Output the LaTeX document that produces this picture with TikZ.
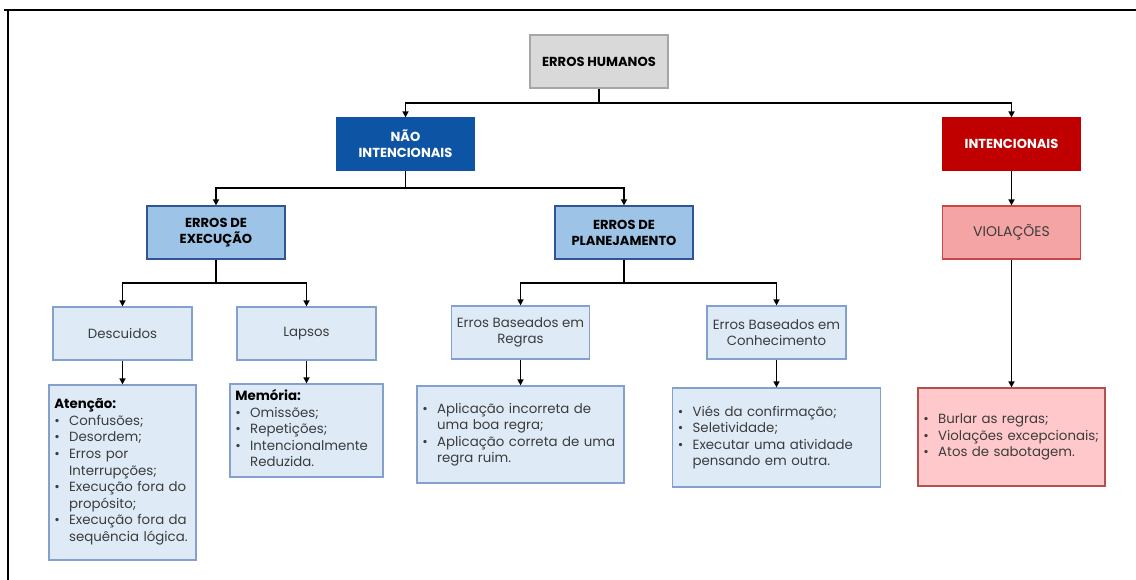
\documentclass[tikz,border=0pt]{standalone}
\usepackage{fontspec}
\setmainfont{Poppins}
\usetikzlibrary{arrows.meta}

\definecolor{grayfill}{RGB}{217,217,217}
\definecolor{grayline}{RGB}{166,166,166}
\definecolor{darkblue}{RGB}{14,84,164}
\definecolor{darkred}{RGB}{192,0,0}
\definecolor{midblue}{RGB}{157,195,230}
\definecolor{midblueline}{RGB}{47,85,151}
\definecolor{paleblue}{RGB}{222,235,247}
\definecolor{paleblueline}{RGB}{132,160,204}
\definecolor{pinkfill}{RGB}{244,164,164}
\definecolor{pinkline}{RGB}{200,70,70}
\definecolor{palepink}{RGB}{255,201,204}
\definecolor{palepinkline}{RGB}{180,80,80}
\definecolor{textgray}{RGB}{60,60,60}

\tikzset{
  headfont/.style={font=\fontsize{9.8}{12}\selectfont\bfseries},
  bodyfont/.style={font=\fontsize{10}{12.4}\selectfont},
  headbox/.style={rectangle, draw, line width=0.9pt, align=center, inner sep=2pt, headfont},
  subbox/.style={rectangle, draw=paleblueline, fill=paleblue, line width=0.9pt, align=center, inner sep=2pt, text=textgray, bodyfont},
  listbox/.style={rectangle, draw, line width=0.9pt, align=left, inner xsep=4pt, inner ysep=2pt, text=textgray, bodyfont},
}

\newcommand{\bul}{\textbullet}

\begin{document}
\begin{tikzpicture}[x=0.75pt,y=0.75pt,yscale=-1,xscale=1,
  link/.style={line width=1.4pt},
  arr/.style={link,-{Triangle[length=4.5pt,width=4.5pt]}}]
\useasboundingbox (0,0) rectangle (1136,580);

% frame
\draw[line width=2.2pt] (4,10) -- (1136,10);
\draw[line width=2.2pt] (8,10) -- (8,580);

% level 0
\node[headbox, draw=grayline, fill=grayfill, minimum width=103.5pt, minimum height=39.75pt] (humanos) at (599,61.5) {ERROS HUMANOS};

% level 1
\node[headbox, draw=darkblue, fill=darkblue, text=white, minimum width=102.75pt, minimum height=39pt] (nao) at (405.5,144) {NÃO\\INTENCIONAIS};
\node[headbox, draw=darkred, fill=darkred, text=white, minimum width=102.75pt, minimum height=39pt] (intenc) at (1011.5,144) {INTENCIONAIS};

% level 2
\node[headbox, draw=midblueline, fill=midblue, minimum width=103.5pt, minimum height=39.75pt] (execucao) at (216,232.5) {ERROS DE\\EXECUÇÃO};
\node[headbox, draw=midblueline, fill=midblue, minimum width=103.5pt, minimum height=39.75pt] (planej) at (624,232.5) {ERROS DE\\PLANEJAMENTO};
\node[headbox, draw=pinkline, fill=pinkfill, text=textgray, font=\fontsize{10.5}{12.5}\selectfont, minimum width=103.5pt, minimum height=39.75pt] (violacoes) at (1011.5,232.5) {VIOLAÇÕES};

% level 3
\node[subbox, minimum width=104.25pt, minimum height=39.75pt] (descuidos) at (122.5,333.5) {Descuidos};
\node[subbox, minimum width=104.25pt, minimum height=39.75pt] (lapsos) at (306.5,333.5) {Lapsos};
\node[subbox, minimum width=103.5pt, minimum height=39.75pt] (regras) at (520.5,332.5) {Erros Baseados em\\Regras};
\node[subbox, minimum width=104.25pt, minimum height=39.75pt] (conhec) at (776.5,332.5) {Erros Baseados em\\Conhecimento};

% level 4
\node[listbox, draw=paleblueline, fill=paleblue, text width=102.25pt, minimum height=131.25pt] (atencao) at (122.5,472.5) {%
  {\bfseries\color{black}Atenção:}\\
  \begin{tabular}[t]{@{}l@{\hspace{7pt}}l@{}}
  \bul & Confusões;\\
  \bul & Desordem;\\
  \bul & Erros por\\
       & Interrupções;\\
  \bul & Execução fora do\\
       & propósito;\\
  \bul & Execução fora da\\
       & sequência lógica.
  \end{tabular}};
\node[listbox, draw=paleblueline, fill=paleblue, text width=106.75pt, minimum height=69.75pt] (memoria) at (306.5,430.5) {%
  {\bfseries\color{black}Memória:}\\
  \begin{tabular}[t]{@{}l@{\hspace{7pt}}l@{}}
  \bul & Omissões;\\
  \bul & Repetições;\\
  \bul & Intencionalmente\\
       & Reduzida.
  \end{tabular}};
\node[listbox, draw=paleblueline, fill=paleblue, text width=147.25pt, minimum height=72.75pt] (aplicacao) at (520.5,434.5) {%
  \begin{tabular}[t]{@{}l@{\hspace{7pt}}l@{}}
  \bul & Aplicação incorreta de\\
       & uma boa regra;\\
  \bul & Aplicação correta de uma\\
       & regra ruim.
  \end{tabular}};
\node[listbox, draw=paleblueline, fill=paleblue, text width=148pt, minimum height=74.25pt] (vies) at (776.5,437.5) {%
  \begin{tabular}[t]{@{}l@{\hspace{7pt}}l@{}}
  \bul & Viés da confirmação;\\
  \bul & Seletividade;\\
  \bul & Executar uma atividade\\
       & pensando em outra.
  \end{tabular}};
\node[listbox, draw=palepinkline, fill=palepink, text width=132.25pt, minimum height=73.5pt] (burlar) at (1011.5,437) {%
  \begin{tabular}[t]{@{}l@{\hspace{7pt}}l@{}}
  \bul & Burlar as regras;\\
  \bul & Violações excepcionais;\\
  \bul & Atos de sabotagem.
  \end{tabular}};

% bus points
\coordinate (b0) at (599,103);
\coordinate (b1) at (405.5,188);
\coordinate (b2) at (216,283);
\coordinate (b3) at (624,283);

% connectors
\draw[link] (humanos.south) -- (b0);
\draw[arr] (b0) -| (nao.north);
\draw[arr] (b0) -| (intenc.north);
\draw[link] (nao.south) -- (b1);
\draw[arr] (b1) -| (execucao.north);
\draw[arr] (b1) -| (planej.north);
\draw[arr] (intenc.south) -- (violacoes.north);
\draw[link] (execucao.south) -- (b2);
\draw[arr] (b2) -| (descuidos.north);
\draw[arr] (b2) -| (lapsos.north);
\draw[link] (planej.south) -- (b3);
\draw[arr] (b3) -| (regras.north);
\draw[arr] (b3) -| (conhec.north);
\draw[arr] (descuidos.south) -- (atencao.north);
\draw[arr] (lapsos.south) -- (memoria.north);
\draw[arr] (regras.south) -- (aplicacao.north);
\draw[arr] (conhec.south) -- (vies.north);
\draw[arr] (violacoes.south) -- (burlar.north);

\end{tikzpicture}
\end{document}
